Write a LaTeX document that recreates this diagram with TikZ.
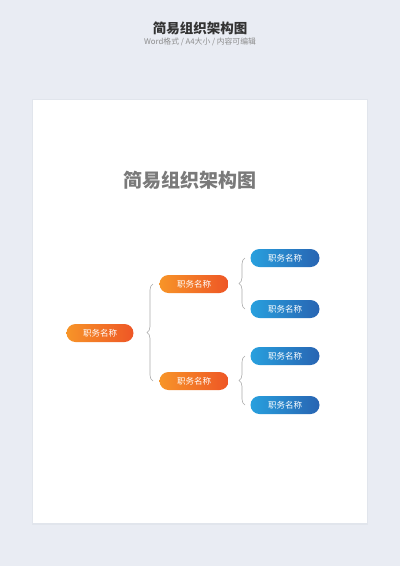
\documentclass[tikz,border=0pt]{standalone}
\usepackage{fontspec}
\setmainfont{Noto Sans CJK SC}
\usepackage{tikz}
\usetikzlibrary{decorations.pathreplacing}
\usetikzlibrary{positioning}
\definecolor{bgblue}{RGB}{233,236,243}
\definecolor{shadowgray}{RGB}{225,229,236}
\definecolor{orangeL}{RGB}{247,148,40}
\definecolor{orangeR}{RGB}{238,86,38}
\definecolor{blueL}{RGB}{40,160,222}
\definecolor{blueR}{RGB}{40,100,178}
\definecolor{linegray}{RGB}{170,170,170}

\begin{document}
\begin{tikzpicture}
    [
    x=1pt,y=-1pt,
    job/.style = {minimum width=69pt,minimum height=18pt,inner sep=0pt,rounded corners=9pt,text=white,font=\fontsize{8.5}{9}\selectfont},
    orangejob/.style = {job,left color=orangeL,right color=orangeR},
    bluejob/.style = {job,left color=blueL,right color=blueR},
    brc/.style = {decorate,decoration={brace,amplitude=6pt},draw=linegray,line width=0.6pt}
    ]
\fill[bgblue] (0,0) rectangle (400,566);
\useasboundingbox (0,0) rectangle (400,566);
\fill[shadowgray] (32,99) rectangle (368,525);
\fill[white] (33,100) rectangle (367,523);

\node[font=\fontsize{13.5}{15}\bfseries,text=black!80] (head) at (200,28) {简易组织架构图};
\node[font=\fontsize{7.8}{8}\selectfont,text=black!45] (sub) at (200,42) {Word格式 / A4大小 / 内容可编辑};
\node[font=\fontsize{19}{21}\bfseries,text=black!52] (title) at (190,180) {简易组织架构图};

\node[orangejob,minimum width=67pt] (root) at (100,333) {职务名称};
\node[orangejob] (m1) at (194,284) {职务名称};
\node[orangejob] (m2) at (194,381) {职务名称};
\node[bluejob] (s1) at (285,258) {职务名称};
\node[bluejob] (s2) at (285,309) {职务名称};
\node[bluejob] (s3) at (285,356) {职务名称};
\node[bluejob] (s4) at (285,405) {职务名称};

\coordinate (b1) at (153,0);
\coordinate (b2) at (245,0);
\draw[brc] (m2.west -| b1) -- (m1.west -| b1);
\draw[brc] (s2.west -| b2) -- (s1.west -| b2);
\draw[brc] (s4.west -| b2) -- (s3.west -| b2);
\end{tikzpicture}
\end{document}
